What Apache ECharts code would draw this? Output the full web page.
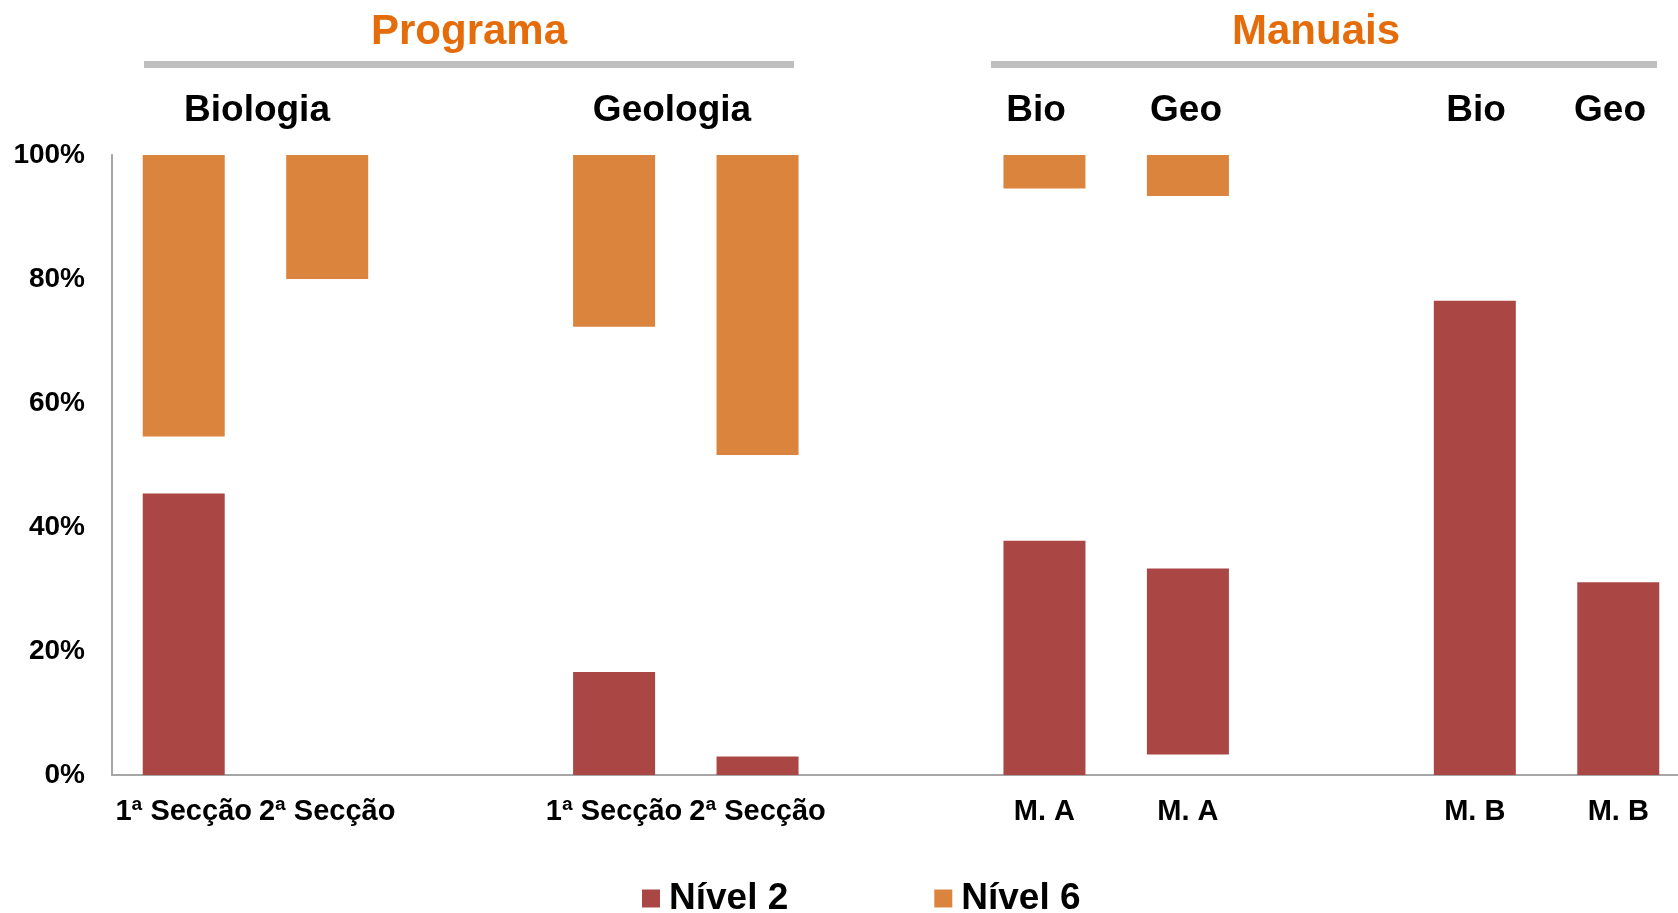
<!DOCTYPE html>
<html>
<head>
<meta charset="utf-8">
<script src="https://cdn.jsdelivr.net/npm/echarts@6/dist/echarts.min.js"></script>
<style>
  html, body { margin: 0; padding: 0; background: #fff; }
  #chart { width: 1678px; height: 913px; }
</style>
</head>
<body>
<div id="chart"></div>
<script>
// categorias (as vazias separam os grupos)
const categories = ['1ª Secção', '2ª Secção', '', '1ª Secção', '2ª Secção', '', 'M. A', 'M. A', '', 'M. B', 'M. B']
// parte invisível por baixo do Nível 2
const baseHidden = [0, 0, null, 0, 0, null, 0, 3.3, null, 0, 0]
const nivel2 = [45.4, 0, null, 16.6, 3.0, null, 37.8, 30.0, null, 76.5, 31.1]
const nivel6 = [45.4, 20.0, null, 27.7, 48.4, null, 5.4, 6.6, null, 0, 0]
const yTicks = [0, 20, 40, 60, 80, 100]
const groupTitles = ['Programa', 'Manuais']
const subTitles = ['Biologia', 'Geologia', 'Bio', 'Geo', 'Bio', 'Geo']

// níveis intermédios, não mostrados
const middleHidden = nivel2.map((v, i) => v === null ? null : Math.max(0, 100 - baseHidden[i] - v - nivel6[i]))

const FONT = "'Liberation Sans', Arial, sans-serif"
const chart = echarts.init(document.getElementById('chart'))

const groupPos = [[469, 32], [1316, 32]]
const subPos = [[257, 111], [672, 111], [1036, 111], [1186, 111], [1476, 111], [1610, 111]]
const graphics = []
// linhas cinzentas por baixo dos títulos
graphics.push({ type: 'rect', shape: { x: 144, y: 61, width: 650, height: 7 }, style: { fill: '#BFBFBF' } })
graphics.push({ type: 'rect', shape: { x: 991, y: 61, width: 666, height: 7 }, style: { fill: '#BFBFBF' } })
groupTitles.forEach((t, i) => {
    graphics.push({
        type: 'text', x: groupPos[i][0], y: groupPos[i][1],
        style: { text: t, fill: '#E46C0A', font: 'bold 42px ' + FONT, textAlign: 'center', textVerticalAlign: 'middle' }
    })
})
subTitles.forEach((t, i) => {
    graphics.push({
        type: 'text', x: subPos[i][0], y: subPos[i][1],
        style: { text: t, fill: '#000', font: 'bold 37px ' + FONT, textAlign: 'center', textVerticalAlign: 'middle' }
    })
})

chart.setOption({
    animation: false,
    grid: { left: 112, width: 1578, top: 155, bottom: 138, outerBoundsMode: 'none', containLabel: false },
    legend: {
        data: ['Nível 2', 'Nível 6'],
        left: 637,
        top: 875,
        icon: 'rect',
        itemWidth: 18,
        itemHeight: 18,
        itemGap: 146,
        textStyle: { fontFamily: FONT, fontWeight: 'bold', fontSize: 37, color: '#000', padding: [0, 0, 0, 4] }
    },
    graphic: graphics,
    xAxis: {
        type: 'category',
        data: categories,
        axisLine: { lineStyle: { color: '#A6A6A6', width: 2 } },
        axisTick: { show: false },
        axisLabel: { interval: 0, margin: 22, fontFamily: FONT, fontWeight: 'bold', fontSize: 29, color: '#000' }
    },
    yAxis: {
        type: 'value',
        min: yTicks[0],
        max: yTicks[yTicks.length - 1],
        interval: 20,
        splitLine: { show: false },
        axisTick: { show: false },
        axisLine: { show: true, lineStyle: { color: '#A6A6A6', width: 2 } },
        axisLabel: { margin: 27, formatter: '{value}%', fontFamily: FONT, fontWeight: 'bold', fontSize: 28, color: '#000' }
    },
    series: [
        { name: 'base', type: 'bar', stack: 'total', data: baseHidden, barWidth: 82, itemStyle: { color: 'transparent' }, silent: true },
        { name: 'Nível 2', type: 'bar', stack: 'total', data: nivel2, barWidth: 82, itemStyle: { color: '#AA4644' } },
        { name: 'meio', type: 'bar', stack: 'total', data: middleHidden, barWidth: 82, itemStyle: { color: 'transparent' }, silent: true },
        { name: 'Nível 6', type: 'bar', stack: 'total', data: nivel6, barWidth: 82, itemStyle: { color: '#DB843D' } }
    ]
})
</script>
</body>
</html>
